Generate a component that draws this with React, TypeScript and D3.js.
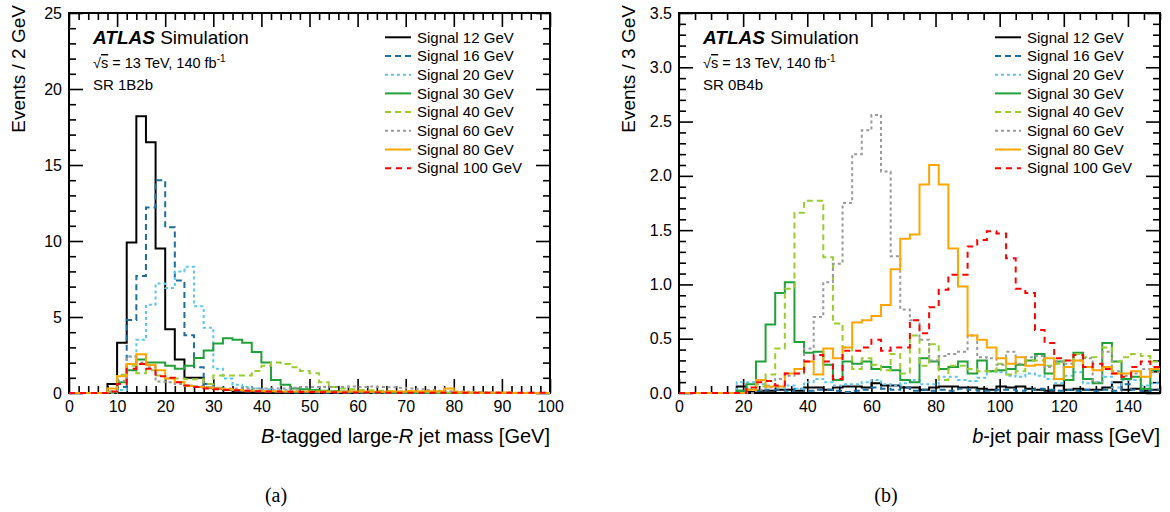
import React, { useEffect, useRef } from "react";
import * as d3 from "d3";

const signalNames = ["Signal 12 GeV", "Signal 16 GeV", "Signal 20 GeV", "Signal 30 GeV", "Signal 40 GeV", "Signal 60 GeV", "Signal 80 GeV", "Signal 100 GeV"];
const signalColors = ["#000000", "#1f6e9c", "#5cc6f2", "#22a03a", "#9acd32", "#9a9a9a", "#ffa500", "#ff0000"];
const signalDashes = ["none", "6,4", "3,3", "none", "6,4", "3,3", "none", "6,5"];

// (a) B-tagged large-R jet mass, 2 GeV bins from 0 to 100
const a12 = [0, 0, 0, 0, 0.6, 3.3, 9.9, 18.2, 16.5, 9.5, 4.2, 2.2, 1.0, 1.0, 0.35, 0.3, 0.2, 0.15, 0.1, 0.1, 0.08, 0.05, 0.05, 0.04, 0.03, 0.02, 0.02, 0.02, 0.01, 0.01, 0, 0, 0, 0, 0, 0, 0, 0, 0, 0, 0, 0, 0, 0, 0, 0, 0, 0, 0, 0];
const a16 = [0, 0, 0, 0, 0.05, 0.4, 4.8, 7.7, 12.2, 14.0, 10.9, 7.4, 3.8, 1.7, 0.6, 0.3, 0.2, 0.15, 0.1, 0.1, 0.08, 0.06, 0.05, 0.04, 0.03, 0.03, 0.02, 0.02, 0.01, 0.01, 0, 0, 0, 0, 0, 0, 0, 0, 0, 0, 0, 0, 0, 0, 0, 0, 0, 0, 0, 0];
const a20 = [0, 0, 0, 0, 0, 0.2, 2.4, 3.5, 5.8, 7.2, 6.9, 8.0, 8.3, 5.7, 4.3, 1.6, 0.95, 0.55, 0.4, 0.3, 0.25, 0.2, 0.2, 0.15, 0.12, 0.1, 0.08, 0.06, 0.05, 0.05, 0.04, 0.03, 0.03, 0.02, 0.02, 0.01, 0.01, 0, 0, 0, 0, 0, 0, 0, 0, 0, 0, 0, 0, 0];
const a30 = [0, 0, 0, 0, 0.05, 0.7, 1.5, 2.2, 2.0, 2.0, 1.8, 1.6, 1.8, 2.3, 2.8, 3.25, 3.6, 3.5, 3.3, 2.7, 2.0, 0.85, 0.55, 0.3, 0.25, 0.2, 0.15, 0.12, 0.1, 0.08, 0.06, 0.05, 0.04, 0.03, 0.03, 0.02, 0.02, 0.01, 0.01, 0, 0, 0, 0, 0, 0, 0, 0, 0, 0, 0];
const a40 = [0, 0, 0, 0, 0.1, 1.2, 1.8, 1.3, 1.5, 1.15, 0.95, 0.95, 0.9, 0.9, 0.6, 1.15, 1.15, 1.15, 1.15, 1.45, 1.8, 2.0, 1.9, 1.7, 1.45, 1.3, 0.7, 0.4, 0.3, 0.25, 0.2, 0.18, 0.15, 0.12, 0.1, 0.1, 0.08, 0.06, 0.05, 0.04, 0.03, 0.03, 0.02, 0.02, 0.01, 0.01, 0, 0, 0, 0];
const a60 = [0, 0, 0, 0, 0.1, 0.8, 2.4, 2.0, 1.7, 0.75, 0.7, 0.6, 0.5, 0.45, 0.4, 0.35, 0.3, 0.3, 0.3, 0.3, 0.3, 0.3, 0.3, 0.35, 0.4, 0.4, 0.4, 0.4, 0.4, 0.42, 0.4, 0.42, 0.4, 0.38, 0.35, 0.3, 0.25, 0.2, 0.15, 0.12, 0.1, 0.08, 0.06, 0.05, 0.04, 0.03, 0.02, 0.02, 0.01, 0.01];
const a80 = [0, 0, 0, 0, 0.3, 1.1, 1.9, 2.55, 1.85, 1.5, 0.95, 0.72, 0.46, 0.4, 0.35, 0.3, 0.25, 0.2, 0.15, 0.15, 0.12, 0.12, 0.1, 0.1, 0.1, 0.1, 0.1, 0.08, 0.08, 0.1, 0.1, 0.08, 0.08, 0.1, 0.08, 0.12, 0.1, 0.12, 0.12, 0.3, 0.05, 0.03, 0.02, 0.02, 0.01, 0.01, 0, 0, 0, 0];
const a100 = [0, 0, 0, 0, 0.1, 0.6, 1.6, 1.9, 1.6, 1.1, 1.0, 0.7, 0.5, 0.4, 0.3, 0.25, 0.2, 0.18, 0.15, 0.12, 0.1, 0.1, 0.08, 0.08, 0.07, 0.06, 0.05, 0.05, 0.04, 0.04, 0.03, 0.03, 0.03, 0.02, 0.02, 0.02, 0.02, 0.02, 0.01, 0.01, 0.01, 0.01, 0.01, 0.01, 0.01, 0.01, 0.01, 0.01, 0.01, 0.01];

// (b) b-jet pair mass, 3 GeV bins from 0 to 150
const b12 = [0, 0, 0, 0, 0, 0, 0.06, 0.01, 0.02, 0.02, 0.03, 0.03, 0.02, 0.05, 0.05, 0.03, 0.05, 0.06, 0.06, 0.05, 0.09, 0.07, 0.07, 0.05, 0.05, 0.03, 0.05, 0.06, 0.06, 0.05, 0.05, 0.04, 0.03, 0.06, 0.05, 0.06, 0.04, 0.03, 0.02, 0.07, 0.03, 0.04, 0.03, 0.03, 0.05, 0.1, 0.03, 0.04, 0.02, 0.03];
const b16 = [0, 0, 0, 0, 0, 0, 0.02, 0.03, 0.02, 0.03, 0.03, 0.02, 0.04, 0.02, 0.03, 0.03, 0.02, 0.01, 0.02, 0.03, 0.05, 0.04, 0.03, 0.05, 0.02, 0.03, 0.02, 0.03, 0.02, 0.04, 0.03, 0.02, 0.02, 0.03, 0.03, 0.02, 0.03, 0.04, 0.03, 0.02, 0.03, 0.02, 0.03, 0.02, 0.03, 0.02, 0.08, 0.03, 0.02, 0.03];
const b20 = [0, 0, 0, 0, 0, 0, 0.1, 0.1, 0.08, 0.07, 0.05, 0.07, 0.04, 0.1, 0.13, 0.1, 0.07, 0.08, 0.08, 0.1, 0.12, 0.08, 0.07, 0.09, 0.12, 0.08, 0.08, 0.15, 0.15, 0.12, 0.11, 0.14, 0.2, 0.19, 0.16, 0.15, 0.18, 0.16, 0.13, 0.09, 0.16, 0.19, 0.09, 0.1, 0.15, 0.05, 0.12, 0.12, 0.07, 0.09];
const b30 = [0, 0, 0, 0, 0, 0, 0.02, 0.08, 0.29, 0.63, 0.92, 1.02, 0.47, 0.37, 0.38, 0.26, 0.12, 0.29, 0.27, 0.29, 0.22, 0.24, 0.21, 0.12, 0.1, 0.32, 0.29, 0.22, 0.24, 0.29, 0.18, 0.3, 0.2, 0.21, 0.22, 0.26, 0.3, 0.36, 0.18, 0.29, 0.12, 0.37, 0.13, 0.09, 0.46, 0.29, 0.13, 0.15, 0.04, 0.21];
const b40 = [0, 0, 0, 0, 0, 0, 0, 0.03, 0.06, 0.17, 0.41, 0.96, 1.66, 1.77, 1.77, 1.25, 0.64, 0.42, 0.22, 0.32, 0.26, 0.21, 0.36, 0.18, 0.53, 0.25, 0.45, 0.12, 0.25, 0.25, 0.22, 0.2, 0.2, 0.27, 0.17, 0.2, 0.3, 0.3, 0.25, 0.27, 0.3, 0.36, 0.33, 0.33, 0.42, 0.29, 0.33, 0.36, 0.34, 0.29];
const b60 = [0, 0, 0, 0, 0, 0, 0, 0, 0.03, 0.05, 0.13, 0.16, 0.18, 0.41, 0.7, 1.02, 1.19, 1.75, 2.2, 2.42, 2.56, 2.04, 1.26, 0.77, 0.67, 0.49, 0.3, 0.34, 0.36, 0.38, 0.53, 0.33, 0.32, 0.26, 0.38, 0.27, 0.33, 0.34, 0.24, 0.29, 0.27, 0.3, 0.32, 0.1, 0.38, 0.2, 0.16, 0.18, 0.22, 0.19];
const b80 = [0, 0, 0, 0, 0, 0, 0, 0.03, 0.12, 0.06, 0.06, 0.18, 0.22, 0.29, 0.17, 0.41, 0.32, 0.42, 0.65, 0.67, 0.71, 0.81, 1.14, 1.42, 1.46, 1.92, 2.1, 1.92, 1.33, 0.98, 0.53, 0.49, 0.42, 0.32, 0.27, 0.33, 0.25, 0.26, 0.32, 0.13, 0.24, 0.3, 0.24, 0.21, 0.24, 0.18, 0.18, 0.2, 0.15, 0.22];
const b100 = [0, 0, 0, 0, 0, 0, 0, 0.05, 0.1, 0.11, 0.07, 0.18, 0.18, 0.29, 0.35, 0.29, 0.13, 0.39, 0.39, 0.42, 0.49, 0.39, 0.42, 0.42, 0.67, 0.55, 0.79, 0.95, 1.09, 1.09, 1.35, 1.41, 1.49, 1.47, 1.24, 0.96, 0.92, 0.58, 0.46, 0.32, 0.3, 0.35, 0.24, 0.27, 0.22, 0.18, 0.15, 0.24, 0.29, 0.24];

const FONT = "'Liberation Sans', Arial, Helvetica, sans-serif";

function drawPanel(svg, p) {
  const left = p.left;
  const top = 13;
  const w = 481;
  const h = 380;

  const x = d3.scaleLinear().domain([0, p.xMax]).range([left, left + w]);
  const y = d3.scaleLinear().domain([0, p.yMax]).range([top + h, top]);

  const g = svg.append("g");

  // frame
  g.append("rect").attr("x", left).attr("y", top).attr("width", w).attr("height", h)
    .attr("fill", "none").attr("stroke", "#000").attr("stroke-width", 2);

  const xMajor = d3.range(0, p.xMax + 1e-6, p.xMajorStep);
  const xMinor = d3.range(0, p.xMax + 1e-6, p.xMinorStep).filter(v => xMajor.every(m => Math.abs(m - v) > 1e-6));
  const yMajor = d3.range(0, p.yMax + 1e-6, p.yMajorStep);
  const yMinor = d3.range(0, p.yMax + 1e-6, p.yMinorStep).filter(v => yMajor.every(m => Math.abs(m - v) > 1e-6));

  const addAxis = (axis, tx, ty) => {
    const a = g.append("g").attr("transform", `translate(${tx},${ty})`).call(axis);
    a.select(".domain").remove();
    a.selectAll("line").attr("stroke", "#000").attr("stroke-width", 1.6);
    a.selectAll("text").attr("font-family", FONT).attr("font-size", 16).attr("fill", "#000");
    return a;
  };

  // bottom with labels
  addAxis(d3.axisBottom(x).tickValues(xMajor).tickSize(-14).tickPadding(8).tickFormat(d3.format("d")), 0, top + h);
  addAxis(d3.axisBottom(x).tickValues(xMinor).tickSize(-7).tickFormat(() => ""), 0, top + h);
  addAxis(d3.axisTop(x).tickValues(xMajor).tickSize(-14).tickFormat(() => ""), 0, top);
  addAxis(d3.axisTop(x).tickValues(xMinor).tickSize(-7).tickFormat(() => ""), 0, top);

  addAxis(d3.axisLeft(y).tickValues(yMajor).tickSize(-14).tickPadding(7).tickFormat(p.yFormat), left, 0);
  addAxis(d3.axisLeft(y).tickValues(yMinor).tickSize(-7).tickFormat(() => ""), left, 0);
  addAxis(d3.axisRight(y).tickValues(yMajor).tickSize(-14).tickFormat(() => ""), left + w, 0);
  addAxis(d3.axisRight(y).tickValues(yMinor).tickSize(-7).tickFormat(() => ""), left + w, 0);

  // histograms
  const clipId = "clip-" + p.caption.replace(/\W/g, "");
  svg.append("clipPath").attr("id", clipId).append("rect")
    .attr("x", left - 1).attr("y", top).attr("width", w + 2).attr("height", h + 2);

  const line = d3.line().x(d => x(d[0])).y(d => y(d[1]));
  const hg = g.append("g").attr("clip-path", `url(#${clipId})`);
  p.series.forEach((vals, k) => {
    const pts = [];
    vals.forEach((v, i) => {
      pts.push([i * p.binW, v]);
      pts.push([(i + 1) * p.binW, v]);
    });
    hg.append("path").attr("d", line(pts)).attr("fill", "none")
      .attr("stroke", signalColors[k]).attr("stroke-width", 2)
      .attr("stroke-dasharray", signalDashes[k]);
  });

  // ATLAS label
  const tx = left + 24;
  const t1 = g.append("text").attr("x", tx).attr("y", 44).attr("font-family", FONT).attr("font-size", 19);
  t1.append("tspan").attr("font-weight", "bold").attr("font-style", "italic").text("ATLAS");
  t1.append("tspan").text(" Simulation");

  const t2 = g.append("text").attr("x", tx).attr("y", 68).attr("font-family", FONT).attr("font-size", 14.5);
  t2.append("tspan").text("√");
  t2.append("tspan").style("text-decoration", "overline").text("s");
  t2.append("tspan").text(" = 13 TeV, 140 fb");
  t2.append("tspan").attr("font-size", 10).attr("dy", -6).text("-1");

  g.append("text").attr("x", tx).attr("y", 90).attr("font-family", FONT).attr("font-size", 15).text(p.region);

  // legend
  const lg = g.append("g");
  signalNames.forEach((name, k) => {
    const cy = 37.3 + k * 18.7;
    lg.append("line").attr("x1", left + 316).attr("x2", left + 342).attr("y1", cy).attr("y2", cy)
      .attr("stroke", signalColors[k]).attr("stroke-width", 2).attr("stroke-dasharray", signalDashes[k]);
    lg.append("text").attr("x", left + 348).attr("y", cy).attr("dy", "0.35em")
      .attr("font-family", FONT).attr("font-size", 15).text(name);
  });

  // axis titles
  g.append("text").attr("transform", `translate(${left - 44},5) rotate(-90)`).attr("text-anchor", "end")
    .attr("font-family", FONT).attr("font-size", 19).text(p.yTitle);

  const xt = g.append("text").attr("x", left + w).attr("y", 443).attr("text-anchor", "end")
    .attr("font-family", FONT).attr("font-size", 20);
  p.xTitle.forEach(part => {
    const s = xt.append("tspan").text(part.t);
    if (part.i) s.attr("font-style", "italic");
  });

  svg.append("text").attr("x", left + 207).attr("y", 502).attr("text-anchor", "middle")
    .attr("font-family", "'Liberation Serif', 'Times New Roman', serif").attr("font-size", 20).text(p.caption);
}

function App() {
  const ref = useRef(null);

  useEffect(() => {
    document.body.style.margin = "0";
    const svg = d3.select(ref.current);
    svg.selectAll("*").remove();

    drawPanel(svg, {
      left: 69, xMax: 100, binW: 2, xMajorStep: 10, xMinorStep: 2,
      yMax: 25, yMajorStep: 5, yMinorStep: 1, yFormat: d3.format("d"),
      yTitle: "Events / 2 GeV",
      xTitle: [{ t: "B", i: true }, { t: "-tagged large-" }, { t: "R", i: true }, { t: " jet mass [GeV]" }],
      region: "SR 1B2b", caption: "(a)",
      series: [a12, a16, a20, a30, a40, a60, a80, a100],
    });
    drawPanel(svg, {
      left: 679, xMax: 150, binW: 3, xMajorStep: 20, xMinorStep: 5,
      yMax: 3.5, yMajorStep: 0.5, yMinorStep: 0.1, yFormat: d3.format(".1f"),
      yTitle: "Events / 3 GeV",
      xTitle: [{ t: "b", i: true }, { t: "-jet pair mass [GeV]" }],
      region: "SR 0B4b", caption: "(b)",
      series: [b12, b16, b20, b30, b40, b60, b80, b100],
    });
  }, []);

  return <svg ref={ref} width={1170} height={512} style={{ display: "block", background: "#fff" }} />;
}

export default App;
